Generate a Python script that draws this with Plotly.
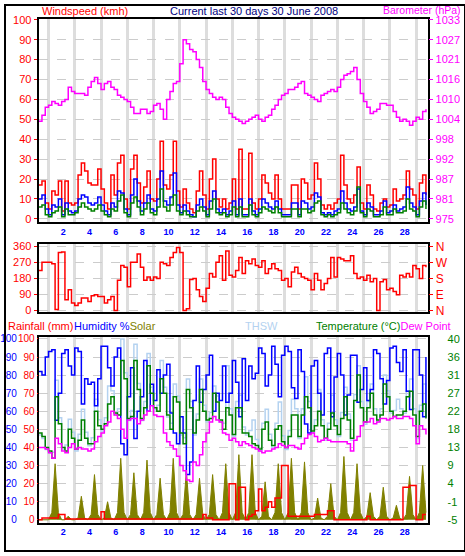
import plotly.graph_objects as go

# ---------------- data (4 samples per day) ----------------
N = 119
time_days = [round(0.12 + 0.25 * i, 3) for i in range(N)]
day_ticks = [2, 4, 6, 8, 10, 12, 14, 16, 18, 20, 22, 24, 26, 28]
day_labels = [str(d) for d in day_ticks]

wind_gust = [17, 19, 8, 5, 14, 12, 19, 4, 19, 8, 7, 8, 22, 28, 24, 18, 17, 17, 25, 15,
             8, 5, 22, 12, 28, 32, 10, 5, 25, 32, 18, 8, 16, 24, 10, 9, 20, 39, 17, 15,
             22, 39, 14, 6, 15, 8, 5, 3, 14, 24, 12, 5, 20, 30, 10, 6, 10, 5, 8, 20,
             5, 35, 5, 5, 33, 8, 5, 10, 22, 18, 13, 10, 22, 10, 5, 5, 5, 17, 17, 5,
             20, 18, 10, 12, 28, 20, 7, 5, 7, 5, 8, 10, 32, 17, 10, 8, 12, 26, 8, 5,
             17, 12, 5, 4, 8, 10, 6, 7, 15, 9, 10, 12, 24, 15, 12, 5, 18, 22, 12]
wind_avg = [10, 12, 5, 2, 7, 6, 10, 2, 8, 4, 3, 4, 10, 12, 11, 8, 7, 8, 11, 7,
            4, 2, 8, 6, 14, 13, 5, 2, 12, 20, 9, 4, 8, 12, 5, 4, 10, 24, 9, 7,
            11, 23, 7, 3, 7, 4, 2, 1, 7, 10, 6, 2, 9, 14, 5, 3, 5, 2, 4, 9,
            2, 10, 2, 2, 10, 4, 2, 5, 10, 8, 6, 5, 9, 5, 2, 2, 2, 8, 8, 2,
            9, 8, 5, 6, 13, 11, 3, 2, 3, 2, 4, 5, 14, 8, 5, 4, 6, 15, 4, 2,
            8, 6, 2, 2, 4, 9, 3, 4, 7, 4, 5, 6, 16, 8, 6, 2, 9, 13, 7]
wind_speed = [6, 7, 2, 1, 3, 4, 6, 1, 5, 2, 2, 3, 6, 8, 6, 5, 4, 5, 7, 4,
              2, 1, 5, 4, 9, 12, 3, 1, 8, 11, 6, 2, 5, 8, 3, 2, 6, 15, 6, 4,
              7, 12, 4, 2, 4, 2, 1, 1, 4, 6, 4, 1, 5, 10, 3, 2, 3, 1, 2, 6,
              1, 6, 1, 1, 7, 2, 1, 3, 6, 5, 4, 3, 6, 3, 1, 1, 1, 5, 5, 1,
              5, 5, 3, 4, 8, 9, 2, 1, 2, 1, 2, 3, 8, 5, 3, 2, 4, 16, 3, 1,
              5, 4, 1, 1, 2, 6, 2, 2, 5, 3, 3, 4, 10, 5, 4, 1, 6, 9, 5]
barometer = [1003.4, 1005.2, 1007.5, 1008.1, 1009.2, 1008.6, 1008.1, 1009.2, 1009.8, 1013.3,
             1012.1, 1011.5, 1011.5, 1011.5, 1011.0, 1013.3, 1015.0, 1016.2, 1014.4, 1012.7,
             1014.4, 1015.0, 1013.3, 1012.7, 1011.0, 1010.4, 1009.8, 1009.2, 1007.5, 1005.7,
             1005.7, 1006.9, 1006.9, 1005.7, 1006.3, 1008.1, 1008.6, 1006.9, 1004.0, 1009.8,
             1012.1, 1014.4, 1015.0, 1020.2, 1027.2, 1026.0, 1024.3, 1023.7, 1021.4, 1019.1,
             1015.0, 1012.7, 1011.5, 1010.4, 1009.8, 1010.4, 1009.8, 1007.5, 1005.7, 1004.6,
             1004.0, 1003.4, 1002.8, 1003.4, 1004.0, 1004.6, 1005.2, 1004.0, 1003.4, 1004.6,
             1005.2, 1006.9, 1008.1, 1009.8, 1011.0, 1011.5, 1012.7, 1012.7, 1013.3, 1014.4,
             1015.0, 1011.5, 1011.0, 1010.4, 1009.8, 1009.2, 1011.0, 1011.5, 1012.1, 1012.7,
             1012.1, 1013.3, 1015.6, 1016.8, 1017.3, 1017.9, 1019.1, 1015.6, 1011.5, 1009.2,
             1007.5, 1005.7, 1006.3, 1006.9, 1008.6, 1008.6, 1008.1, 1008.1, 1006.3, 1004.6,
             1003.4, 1004.0, 1003.4, 1002.3, 1003.4, 1004.6, 1004.0, 1006.3, 1006.9]
wind_dir = [226, 272, 272, 272, 263, 5, 327, 330, 60, 116,
            42, 28, 42, 70, 70, 51, 83, 88, 79, 79,
            42, 60, 79, 0, 171, 253, 244, 134, 272, 272,
            318, 244, 171, 189, 171, 189, 180, 272, 263, 253,
            299, 327, 355, 327, 0, 9, 175, 180, 116, 79,
            51, 125, 208, 189, 272, 309, 171, 336, 198, 189,
            226, 299, 208, 281, 263, 290, 253, 244, 281, 208,
            235, 263, 235, 226, 171, 180, 134, 217, 244, 208,
            189, 180, 171, 116, 208, 171, 116, 152, 180, 299,
            189, 299, 290, 281, 281, 309, 208, 180, 189, 171,
            198, 162, 180, 0, 162, 175, 116, 125, 107, 88,
            198, 189, 208, 189, 253, 235, 180, 253, 244]
rainfall = [0, 1, 1, 1, 1, 1, 3, 3, 0.5, 0.5,
            0.5, 0.5, 0.5, 0.5, 0.5, 0.5, 0.5, 0.5, 0.5, 4.5,
            0.5, 0.5, 0.5, 0.5, 0.5, 0.5, 0.5, 0.5, 0.5, 0.5,
            0.5, 0.5, 0.5, 0.5, 0.5, 0.5, 0.5, 0.5, 0.5, 0.5,
            0.5, 0.5, 0.5, 0.5, 0.5, 0.5, 0.5, 0.5, 0.5, 0.5,
            3, 1, 1, 0, 0, 0, 0, 0, 20, 20,
            0, 18, 18, 0, 2, 3, 5, 17, 5, 7,
            10, 7, 12, 12, 30, 30, 2, 2, 2, 2,
            2, 2, 2, 2, 3, 3, 3, 3, 5, 5,
            0, 0, 0, 0, 0, 0, 0, 0, 0, 0,
            2, 0, 0, 0, 0, 0, 0, 0, 0, 0,
            0, 18, 18, 19, 19, 0, 0, 3, 3]
humidity = [82, 80, 90, 93, 94, 55, 70, 92, 94, 85,
            80, 95, 93, 64, 78, 75, 76, 63, 78, 96,
            96, 84, 74, 90, 95, 42, 36, 68, 84, 45,
            60, 68, 88, 60, 75, 66, 83, 70, 80, 86,
            59, 48, 42, 57, 48, 25, 32, 66, 85, 65,
            72, 80, 91, 60, 70, 66, 85, 65, 70, 88,
            76, 57, 89, 66, 85, 78, 81, 95, 92, 74,
            80, 96, 86, 68, 91, 96, 93, 73, 67, 94,
            82, 53, 48, 85, 88, 70, 58, 92, 95, 57,
            79, 92, 80, 58, 69, 91, 91, 65, 72, 84,
            66, 72, 94, 92, 78, 64, 77, 95, 96, 87,
            82, 94, 71, 61, 94, 94, 80, 57, 90]
solar = [0, 0, 0, 0, 4, 31, 4, 0, 0, 2,
         0, 0, 1, 13, 1, 0, 3, 25, 3, 0,
         1, 10, 1, 0, 4, 34, 4, 0, 3, 26,
         3, 0, 4, 33, 4, 0, 3, 23, 3, 0,
         4, 34, 4, 0, 3, 27, 3, 0, 3, 23,
         3, 0, 3, 25, 3, 0, 4, 31, 4, 0,
         4, 36, 4, 0, 4, 36, 4, 0, 2, 21,
         2, 0, 4, 31, 4, 0, 4, 34, 4, 0,
         4, 32, 4, 0, 1, 12, 1, 0, 2, 20,
         2, 0, 4, 35, 4, 0, 4, 31, 4, 0,
         2, 15, 2, 0, 2, 18, 2, 0, 1, 8,
         1, 0, 3, 24, 3, 0, 4, 30, 4]
temperature = [16.6, 15.7, 13.0, 12.1, 10.3, 25.6, 18.9, 13.0, 12.1, 17.5,
               15.3, 12.6, 14.8, 19.8, 15.3, 13.9, 13.9, 22.0, 18.4, 17.5,
               18.9, 23.8, 25.6, 21.6, 21.1, 34.6, 30.1, 20.2, 20.7, 34.6,
               27.4, 20.2, 22.9, 33.3, 26.5, 22.9, 22.0, 30.1, 26.5, 21.1,
               17.5, 25.6, 24.3, 16.6, 13.9, 27.4, 22.9, 16.6, 19.8, 27.4,
               22.0, 19.8, 20.2, 26.5, 24.3, 19.8, 17.5, 22.9, 21.1, 16.2,
               22.9, 22.9, 16.6, 16.6, 15.7, 13.9, 13.5, 12.6, 17.5, 19.3,
               14.8, 13.5, 17.5, 18.4, 14.4, 13.0, 15.7, 21.1, 21.1, 15.7,
               21.1, 25.6, 22.9, 17.1, 18.4, 22.0, 18.4, 15.3, 17.5, 21.6,
               18.4, 16.2, 20.2, 25.6, 19.8, 15.3, 24.7, 31.0, 22.9, 19.3,
               22.9, 26.5, 21.1, 19.8, 21.1, 28.8, 25.6, 22.0, 20.7, 21.1,
               21.1, 22.0, 25.6, 27.0, 21.1, 15.7, 22.0, 23.8, 20.2]
dew_point = [13.0, 13.0, 12.6, 11.7, 10.3, 15.3, 13.9, 12.1, 11.7, 13.0,
             13.9, 12.6, 13.0, 12.6, 12.6, 12.1, 12.6, 14.4, 15.7, 16.6,
             18.4, 19.3, 22.0, 21.1, 20.2, 17.5, 15.3, 19.8, 20.2, 20.2,
             18.9, 19.8, 21.1, 22.0, 23.4, 21.1, 20.7, 20.7, 16.6, 14.4,
             13.5, 12.6, 10.8, 8.5, 7.2, 4.9, 4.5, 9.4, 8.5, 11.2,
             14.4, 16.6, 19.3, 20.7, 19.8, 19.3, 16.6, 16.2, 14.8, 15.3,
             14.4, 13.5, 14.4, 13.9, 13.5, 13.0, 12.6, 12.1, 11.7, 12.1,
             12.1, 12.6, 13.0, 13.9, 13.5, 13.0, 13.5, 13.5, 13.0, 12.6,
             13.9, 15.3, 16.2, 16.6, 15.7, 14.4, 14.8, 15.3, 14.8, 14.4,
             14.4, 14.4, 14.4, 14.4, 13.9, 12.1, 14.8, 15.7, 18.4, 19.3,
             19.3, 20.2, 18.9, 19.3, 20.2, 20.2, 19.8, 20.2, 20.7, 20.2,
             20.2, 20.7, 20.7, 20.2, 18.4, 13.9, 18.4, 17.5, 16.2]
thsw = [16.1, 15.2, 12.5, 11.6, 11.8, 29.7, 20.4, 12.5, 13.6, 20.0,
        16.8, 12.1, 16.3, 22.5, 16.8, 13.4, 15.4, 25.0, 19.9, 17.0,
        20.4, 28.3, 27.1, 21.1, 22.6, 40.0, 31.6, 19.7, 22.2, 38.7,
        28.9, 19.7, 24.4, 36.4, 28.0, 22.4, 23.5, 34.6, 28.0, 20.6,
        19.0, 28.8, 25.8, 16.1, 15.4, 30.0, 24.4, 16.1, 21.3, 30.0,
        23.5, 19.3, 21.7, 28.3, 25.8, 19.3, 19.0, 33.3, 22.6, 15.7,
        24.4, 26.0, 18.1, 16.1, 17.2, 19.8, 15.0, 12.1, 19.0, 22.5,
        16.3, 13.0, 19.0, 24.3, 15.9, 12.5, 17.2, 25.0, 22.6, 15.2,
        22.6, 30.6, 24.4, 16.6, 19.9, 27.4, 19.9, 14.8, 19.0, 26.0,
        19.9, 15.7, 21.7, 28.0, 21.3, 14.8, 26.2, 33.3, 24.4, 18.8,
        24.4, 28.8, 22.6, 19.3, 22.6, 31.0, 27.1, 21.5, 22.2, 25.0,
        22.6, 21.5, 27.1, 30.0, 22.6, 15.2, 23.5, 28.8, 21.7]

# tick labels
wind_ticks = [0, 10, 20, 30, 40, 50, 60, 70, 80, 90, 100]
baro_tickvals = [975, 980.8, 986.6, 992.4, 998.2, 1004, 1009.8, 1015.6, 1021.4, 1027.2, 1033]
baro_ticktext = ["975", "981", "987", "992", "998", "1004", "1010", "1016", "1021", "1027", "1033"]
dir_ticks = [0, 90, 180, 270, 360]
dir_compass = ["N", "E", "S", "W", "N"]
temp_tickvals = [-5, -0.5, 4, 8.5, 13, 17.5, 22, 26.5, 31, 35.5, 40]
temp_ticktext = ["-5", "-1", "4", "9", "13", "18", "22", "27", "31", "36", "40"]

# ---------------- styling ----------------
FONT = "Liberation Sans, Arial, sans-serif"
W, H = 465, 556
XDOM = [34 / W, 428 / W]
P1 = [1 - 221 / H, 1 - 14 / H]
P2 = [1 - 313 / H, 1 - 243 / H]
P3 = [1 - 527 / H, 1 - 338 / H]
GRID = "#cccccc"
VGRID = "#dddddd"
XR = [0.116, 29.807]

def xax(anchor, labels):
    return dict(domain=XDOM, anchor=anchor, range=XR, tickmode="array",
                tickvals=day_ticks, ticktext=day_labels, showticklabels=labels,
                tickfont=dict(color="#0000ff", size=9, family=FONT, weight="bold"), ticks="",
                showgrid=False, zeroline=False, showline=True, linecolor="black",
                linewidth=2, mirror=True,
                minor=dict(tickmode="linear", tick0=0.87, dtick=2, showgrid=True,
                           gridcolor=VGRID, gridwidth=3, ticks=""))

fig = go.Figure()
ln = dict(shape="hv", width=1.5)

# panel 1
fig.add_trace(go.Scatter(x=time_days, y=wind_gust, mode="lines", line=dict(color="#ff0000", **ln), xaxis="x", yaxis="y"))
fig.add_trace(go.Scatter(x=time_days, y=wind_avg, mode="lines", line=dict(color="#0000ff", **ln), xaxis="x", yaxis="y"))
fig.add_trace(go.Scatter(x=time_days, y=wind_speed, mode="lines", line=dict(color="#008000", **ln), xaxis="x", yaxis="y"))
fig.add_trace(go.Scatter(x=time_days, y=barometer, mode="lines", line=dict(color="#ff00ff", **ln), xaxis="x", yaxis="y2"))
# panel 2
fig.add_trace(go.Scatter(x=time_days, y=wind_dir, mode="lines", line=dict(color="#ff0000", **ln), xaxis="x2", yaxis="y3"))
fig.add_trace(go.Scatter(x=[None], y=[None], mode="lines", xaxis="x2", yaxis="y4"))
# panel 3
fig.add_trace(go.Scatter(x=time_days, y=thsw, mode="lines", line=dict(color="#b4d2f0", **ln), xaxis="x3", yaxis="y5"))
fig.add_trace(go.Scatter(x=time_days, y=solar, mode="lines", fill="tozeroy", fillcolor="#808000",
                         line=dict(color="#808000", width=1), xaxis="x3", yaxis="y6"))
fig.add_trace(go.Scatter(x=time_days, y=rainfall, mode="lines", line=dict(color="#ff0000", **ln), xaxis="x3", yaxis="y6"))
fig.add_trace(go.Scatter(x=time_days, y=humidity, mode="lines", line=dict(color="#0000ff", **ln), xaxis="x3", yaxis="y6"))
fig.add_trace(go.Scatter(x=[None], y=[None], mode="lines", xaxis="x3", yaxis="y7"))
fig.add_trace(go.Scatter(x=time_days, y=temperature, mode="lines", line=dict(color="#008000", **ln), xaxis="x3", yaxis="y8"))
fig.add_trace(go.Scatter(x=time_days, y=dew_point, mode="lines", line=dict(color="#ff00ff", **ln), xaxis="x3", yaxis="y8"))

tf = lambda c, s=11: dict(color=c, size=s, family=FONT)
TR = [-5 - 1.5 * 0.45, 40 + 1.1 * 0.45]

fig.update_layout(
    width=W, height=H, margin=dict(l=0, r=0, t=0, b=0),
    paper_bgcolor="white", plot_bgcolor="white", showlegend=False,
    font=dict(family=FONT), hovermode=False,
    xaxis=xax("y", True),
    xaxis2=xax("y3", False),
    xaxis3=xax("y5", True),
    yaxis=dict(domain=P1, range=[-1.6, 100.5], tickvals=wind_ticks, tickfont=tf("#ff0000"),
               ticks="outside", ticklen=3, tickcolor="#ff0000", showgrid=True, gridcolor=GRID,
               griddash="dash", zeroline=False, showline=True, linecolor="black", linewidth=2, mirror=True),
    yaxis2=dict(overlaying="y", side="right", anchor="x", range=[975 - 1.6 * 0.58, 1033 + 0.5 * 0.58],
                tickvals=baro_tickvals, ticktext=baro_ticktext, tickfont=tf("#ff00ff", 11),
                ticks="outside", ticklen=4, tickcolor="#ff00ff", showgrid=False, zeroline=False),
    yaxis3=dict(domain=P2, anchor="x2", range=[-11, 377], tickvals=dir_ticks, tickfont=tf("#ff0000"),
                ticks="outside", ticklen=3, tickcolor="#ff0000", showgrid=True, gridcolor=GRID,
                griddash="dash", zeroline=False, showline=True, linecolor="black", linewidth=2, mirror=True),
    yaxis4=dict(overlaying="y3", side="right", anchor="x2", range=[-11, 377], tickvals=dir_ticks,
                ticktext=dir_compass, tickfont=tf("#ff0000", 12), ticks="outside", ticklen=4,
                tickcolor="#ff0000", showgrid=False, zeroline=False),
    yaxis5=dict(domain=P3, anchor="x3", side="right", range=TR, tickvals=temp_tickvals,
                ticktext=temp_ticktext, tickfont=tf("#008000", 11), ticks="outside", ticklen=15,
                tickcolor="white", showgrid=True, gridcolor=GRID, griddash="dash",
                zeroline=False, showline=True, linecolor="black", linewidth=2, mirror=True),
    yaxis6=dict(overlaying="y5", side="left", anchor="x3", range=[-1.5, 101.1], tickvals=wind_ticks,
                tickfont=tf("#ff0000", 10), ticks="outside", ticklen=1, tickcolor="#ff0000",
                showgrid=False, zeroline=False),
    yaxis7=dict(overlaying="y5", side="left", anchor="free", position=12 / W, range=[-1.5, 101.1],
                tickvals=wind_ticks, tickfont=tf("#0000ff", 10), ticks="", showgrid=False,
                zeroline=False, showline=False),
    yaxis8=dict(overlaying="y5", anchor="x3", range=TR, visible=False),
)

def label(x, y, text, color, anchor="left", size=11):
    fig.add_annotation(x=x / W, y=1 - y / H, xref="paper", yref="paper", text=text,
                       showarrow=False, xanchor=anchor, yanchor="middle",
                       font=dict(color=color, size=size, family=FONT))

label(35, 6, "Windspeed (kmh)", "#ff0000")
label(252, 6, "Current last 30 days 30 June 2008", "#000080", "center")
label(463, 5, "Barometer (hPa)", "#ff00ff", "right", 10.5)
label(1, 327, "Rainfall (mm)", "#ff0000")
label(68, 327, "Humidity %<span style='color:#808000'>Solar</span>", "#0000ff")
label(259, 327, "THSW", "#b4d2f0", "center")
label(312, 327, "Temperature (°C)<span style='color:#ff00ff'>Dew Point</span>", "#008000")

fig.add_shape(type="rect", xref="paper", yref="paper", x0=0, y0=0, x1=1, y1=1,
              line=dict(color="black", width=2))

fig.write_html("out.html", config={"displayModeBar": False, "staticPlot": True},
               post_script="document.body.style.margin='0px';document.body.style.overflow='hidden';")
